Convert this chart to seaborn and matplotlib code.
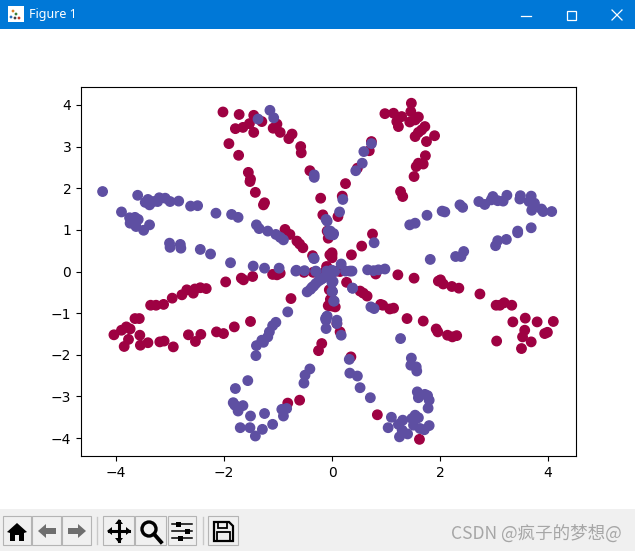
import numpy as np
import pandas as pd
import matplotlib
matplotlib.use("Agg")
import matplotlib.pyplot as plt
from matplotlib.patches import Rectangle, Polygon, Circle
from matplotlib.lines import Line2D
import seaborn as sns

# points, class 0 (red)
red_x = [-2.02, -1.72, -1.45, -1.30, -1.79, -1.65, -1.53, -1.45, -1.09, -1.02, -0.96, -0.74, -0.80, -0.58, -0.57,
         -1.91, -1.73, -1.55, -1.51, -1.52, -1.42, -1.25, -1.27, -0.41, -0.21, -0.17, -0.87, -0.78, -0.65, -0.60,
         -0.54, -0.36, -0.07, -0.09, -0.04, -0.10,
         -1.97, -1.68, -1.64, -1.47, -1.10, -1.02, -0.96, -0.52, -0.35, -2.33, -2.44, -2.54, -2.57, -2.69,
         -2.78, -2.96, -3.12, -3.26, -3.36, -3.65, -3.57, -3.74, -3.81, -3.90, -4.04, -3.77, -3.85, -3.56,
         -3.55, -3.41, -3.19, -3.11, -2.94, -2.66, -2.43, -2.53, -2.14, -2.01, -1.81, -1.51, -0.76, -0.19,
         -0.25, -0.82, -0.60, -0.07, -0.05,
         0.81, 1.22, 1.52, 1.97, 2.01, 2.06, 2.22, 2.35, 2.74, 3.04, 3.11, 3.19, 3.33, 3.35, 3.58, 3.80, 4.10,
         3.57, 3.53, 3.69, 3.51, 3.94, 3.99, 3.05, 1.93, 1.96, 2.14, 2.23, 2.31, 1.69, 1.39, 1.14, 1.07, 0.94,
         0.65, 0.58, 0.52, 0.27, 0.15, 0.06, 0.15, 0.35, 0.84, 1.62, 0.09,
         1.47, 1.46, 0.98, 1.14, 1.29, 1.20, 1.23, 1.44, 1.60, 1.54, 1.72, 1.66, 1.60, 1.54, 1.90, 1.75, 1.73,
         1.69, 1.60, 1.56, 1.52, 1.27, 1.31, 0.73, 0.69, 0.47, 0.25, 0.19, 0.11, 0.75, 0.55, 0.36, 0.00,
         0.00, 0.00, -0.09, 0.09, -0.15, -0.03, -0.03, 0.00, 0.90]
red_y = [3.83, 3.77, 3.75, 3.60, 3.43, 3.46, 3.55, 3.34, 3.44, 3.54, 3.34, 3.30, 3.19, 3.00, 2.85,
         3.07, 2.79, 2.38, 2.22, 2.16, 1.90, 1.65, 1.60, 2.42, 1.76, 1.36, 1.01, 0.89, 0.73, 0.66,
         0.57, 0.38, 0.80, 0.97, 0.40, 0.12,
         -0.25, -0.16, -0.20, -0.12, -0.07, -0.08, -0.04, -0.02, -0.02, -0.41, -0.39, -0.42, -0.52, -0.44,
         -0.56, -0.64, -0.79, -0.81, -0.81, -1.13, -1.13, -1.38, -1.33, -1.41, -1.52, -1.63, -1.80, -1.53,
         -1.77, -1.71, -1.69, -1.67, -1.81, -1.52, -1.51, -1.68, -1.45, -1.49, -1.33, -1.20, -0.65, -1.73,
         -1.90, -3.16, -3.09, -0.82, -0.44,
         -0.06, -0.08, -0.16, -0.23, -0.20, -0.30, -0.36, -0.40, -0.54, -0.81, -0.81, -0.75, -0.81, -1.21, -1.12, -1.21, -1.20,
         -1.41, -1.57, -1.69, -1.85, -1.49, -1.46, -1.67, -1.38, -1.45, -1.53, -1.57, -1.54, -1.19, -1.13, -0.88, -0.90, -0.81,
         -0.59, -0.52, -0.47, -0.26, 0.00, -0.85, -1.45, -2.05, -3.44, -4.03, -1.25,
         4.04, 3.84, 3.79, 3.80, 3.72, 3.60, 3.48, 3.59, 3.71, 3.64, 3.48, 3.40, 3.34, 3.24, 3.26, 3.12, 2.78,
         2.58, 2.60, 2.52, 2.28, 1.92, 1.80, 3.12, 2.90, 2.48, 2.11, 1.81, 1.32, 0.90, 0.61, 0.40, 0.40,
         0.45, 0.33, 0.09, 0.01, -0.03, -0.43, -0.67, -0.83, -0.79]

# class 1 (purple)
purple_x = [-4.25, -3.60, -3.90, -3.41, -3.46, -3.38, -3.31, -3.20, -3.23, -3.09, -3.00, -2.84, -2.62, -2.49, -2.15,
            -1.86, -1.74, -3.75, -3.65, -3.59, -3.74, -3.63, -3.38, -3.49, -3.01, -3.00, -2.81, -2.80, -2.44, -2.25,
            -1.88, -1.46, -1.25, -0.98, -1.40, -1.35, -1.19, -1.04, -0.96, -0.90, -0.33, -0.33, -1.15, -1.08, -1.37,
            -0.11, -0.07, -0.33, -0.66, -0.51, -0.30, -0.10,
            -0.82, -1.04, -1.10, -1.16, -1.19, -1.30, -1.27, -1.40, -1.41, -1.56, -1.79, -1.83, -1.80, -1.65, -1.74,
            -1.51, -1.25, -1.70, -1.52, -1.29, -1.42, -1.10, -0.90, -0.93, -0.84, -0.52, -0.50, -0.41,
            -0.46, -0.40, -0.34, -0.25, -0.15, -0.09, -0.03, -0.10, -0.11, -0.11,
            0.38, 0.72, 0.78, 1.27, 0.09, 0.17, 0.32, 0.33, 0.47, 0.52, 0.71, 1.47, 1.46, 1.56, 1.57, 1.58, 1.60, 1.72,
            1.77, 1.80, 1.78, 1.10, 1.31, 1.23, 1.04, 1.25, 1.30, 1.40, 1.48, 1.51, 1.60, 1.54, 1.63, 1.71, 1.80,
            0.66, 0.77, 0.86, 0.98, 0.33, 0.25, 0.02, 0.01, 0.04,
            0.73, 0.59, 0.56, 0.44, 0.20, 0.14, 0.78, -0.04, 0.02, 0.17, 1.44, 1.54, 1.76, 2.04, 2.09, 2.37, 2.42, 2.72,
            2.83, 2.98, 2.95, 3.07, 3.17, 3.24, 3.49, 3.48, 3.69, 3.65, 3.75, 3.70, 3.88, 3.91, 4.07, 3.69, 3.44, 3.44,
            3.23, 3.07, 3.03, 2.44, 2.29, 2.39, 1.82,
            -0.09, -0.03, 0.03, -0.34, -0.67, -0.30, 0.00, 0.37, 0.00, 0.00, 0.03, 0.38, -0.09, -0.12, 0.09,
            -0.37, -0.30, -0.20, -0.12, -0.06, -0.02, 0.05]
purple_y = [1.92, 1.83, 1.43, 1.73, 1.66, 1.60, 1.68, 1.77, 1.68, 1.76, 1.68, 1.69, 1.57, 1.58, 1.40,
            1.37, 1.30, 1.29, 1.30, 1.25, 1.16, 1.08, 1.12, 0.99, 0.68, 0.58, 0.65, 0.56, 0.53, 0.42,
            0.21, 0.13, 0.08, 0.08, 1.12, 1.03, 0.97, 0.89, 0.82, 0.76, 2.32, 2.26, 3.87, 3.69, 3.66,
            1.25, 0.97, 0.31, 0.03, 0.02, 0.01, 0.01,
            -0.97, -1.22, -1.30, -1.45, -1.57, -1.65, -1.70, -1.78, -2.02, -2.62, -2.81, -3.15, -3.21, -3.22, -3.35,
            -3.47, -3.41, -3.75, -3.75, -3.79, -3.95, -3.67, -3.47, -3.31, -3.29, -2.68, -2.49, -2.34,
            -0.49, -0.43, -0.35, -0.23, -0.15, -0.11, -0.11, -1.09, -1.17, -1.37,
            -0.40, -0.85, -0.89, -1.61, -1.25, -1.53, -2.11, -2.44, -2.51, -2.79, -3.03, -2.08, -2.25, -2.29, -2.39, -2.89, -3.03, -2.95,
            -2.98, -3.09, -3.28, -3.50, -3.57, -3.67, -3.75, -3.97, -3.81, -3.90, -3.53, -3.69, -3.51, -3.45, -3.77, -3.80, -3.70,
            0.04, 0.02, 0.04, 0.06, 0.01, 0.01, -0.24, -0.48, -0.71,
            3.07, 2.88, 2.60, 2.42, 1.73, 1.43, 0.69, 0.89, 0.88, 0.18, 1.12, 1.16, 1.35, 1.45, 1.43, 1.60, 1.54, 1.68,
            1.61, 1.80, 1.72, 1.70, 1.69, 1.83, 1.82, 1.74, 1.81, 1.68, 1.64, 1.47, 1.50, 1.44, 1.44, 1.05, 0.97, 0.93,
            0.77, 0.74, 0.62, 0.48, 0.36, 0.36, 0.29,
            1.21, 0.97, 0.91, 0.32, 0.01, 0.00, 0.03, 0.01, -0.27, -0.48, -0.71, -0.40, -1.07, -1.13, -1.17,
            -0.38, -0.29, -0.19, -0.11, -0.05, 0.02, 0.00]

x_ticks = [-4, -2, 0, 2, 4]
y_ticks = [-4, -3, -2, -1, 0, 1, 2, 3, 4]
window_title = "Figure 1"
watermark = "CSDN @疯子的梦想@"

df = pd.DataFrame({
    "x": red_x + purple_x,
    "y": red_y + purple_y,
    "label": [0] * len(red_x) + [1] * len(purple_x),
})

W, H = 635, 551
fig = plt.figure(figsize=(W / 100, H / 100), dpi=100, facecolor="white")

# axes sit where the embedded figure has them in the window
ax = fig.add_axes([81 / W, (H - 456) / H, 495 / W, 369 / H])
sns.scatterplot(data=df, x="x", y="y", hue="label", palette=["#9e0142", "#5e4fa2"],
                s=46, edgecolor="face", linewidth=1, legend=False, alpha=1, ax=ax)
ax.set_xlim(-4.65, 4.52)
ax.set_ylim(-4.43, 4.43)
ax.set_xticks(x_ticks)
ax.set_yticks(y_ticks)
ax.set_xticklabels([str(t).replace("-", "\u2212") for t in x_ticks])
ax.set_yticklabels([str(t).replace("-", "\u2212") for t in y_ticks])
ax.set_xlabel("")
ax.set_ylabel("")

# window chrome on a pixel overlay
ui = fig.add_axes([0, 0, 1, 1], zorder=-1)
ui.set_xlim(0, W)
ui.set_ylim(H, 0)
ui.axis("off")

ui.add_patch(Rectangle((0, 0), W, 29, color="#0078d7", lw=0))
ui.add_patch(Rectangle((8, 6), 16, 16, color="white", lw=0))
for cx, cy, c in [(13, 11, "#d9822b"), (16, 14, "#3a7f3a"), (19, 18, "#c0392b"), (15, 18, "#444444"), (11, 17, "#2c6fbb")]:
    ui.add_patch(Circle((cx, cy), 1.4, color=c, lw=0))
ui.text(29, 14.5, window_title, color="white", fontsize=9, family="Noto Sans", va="center")
ui.add_line(Line2D([521, 531], [15.5, 15.5], color="white", lw=0.9))
ui.add_patch(Rectangle((566.5, 10.5), 9, 9, fill=False, ec="white", lw=0.9))
ui.add_line(Line2D([612, 622], [10, 20], color="white", lw=0.9))
ui.add_line(Line2D([612, 622], [20, 10], color="white", lw=0.9))

# toolbar
ui.add_patch(Rectangle((0, 509), W, H - 509, color="#f0f0f0", lw=0))
for bx, bw in [(3, 28), (32, 29), (62, 29), (103, 31), (135, 31), (168, 28), (208, 30)]:
    ui.add_patch(Rectangle((bx, 516), bw, 29, fc="#f0f0f0", ec="#b4b4b4", lw=0.8))
for sx in [97, 203]:
    ui.add_line(Line2D([sx, sx], [517, 544], color="#c8c8c8", lw=1))

# home
ui.add_patch(Polygon([[7, 532], [17, 523], [27, 532], [24, 533], [24, 541], [19, 541], [19, 535], [15, 535], [15, 541], [10, 541], [10, 533]], color="black", lw=0))
# back / forward, dithered in the original
ui.add_patch(Polygon([[38, 531], [46, 524], [46, 528], [56, 528], [56, 534], [46, 534], [46, 538]], color="#6e6e6e", lw=0))
ui.add_patch(Polygon([[86, 531], [78, 524], [78, 528], [68, 528], [68, 534], [78, 534], [78, 538]], color="#6e6e6e", lw=0))
# pan
ui.add_line(Line2D([109, 129], [531, 531], color="black", lw=2.2))
ui.add_line(Line2D([119, 119], [521, 541], color="black", lw=2.2))
for pts in [[[107, 531], [112, 527], [112, 535]], [[131, 531], [126, 527], [126, 535]], [[119, 519], [115, 524], [123, 524]], [[119, 543], [115, 538], [123, 538]]]:
    ui.add_patch(Polygon(pts, color="black", lw=0))
# zoom
ui.add_patch(Circle((149, 529), 7, fill=False, ec="black", lw=2.4))
ui.add_line(Line2D([154, 161], [534, 542], color="black", lw=2.8))
# sliders
for ly, kx in [(524, 178), (531, 187), (538, 180)]:
    ui.add_line(Line2D([172, 192], [ly, ly], color="black", lw=1.1))
    ui.add_patch(Rectangle((kx - 2.5, ly - 2.5), 5, 5, color="black", lw=0))
# save
ui.add_patch(Polygon([[214, 522], [229, 522], [233, 526], [233, 541], [214, 541]], fill=False, ec="black", lw=1.6))
ui.add_patch(Rectangle((218, 522), 9, 6, fill=False, ec="black", lw=1.3))
ui.add_patch(Rectangle((217, 532), 13, 9, fill=False, ec="black", lw=1.3))

ui.text(622, 534, watermark, color="#a6a6a6", fontsize=12.6, ha="right", va="center",
        family=["Noto Sans CJK SC", "DejaVu Sans"])

fig.savefig("out.png", dpi=100, facecolor="white")
